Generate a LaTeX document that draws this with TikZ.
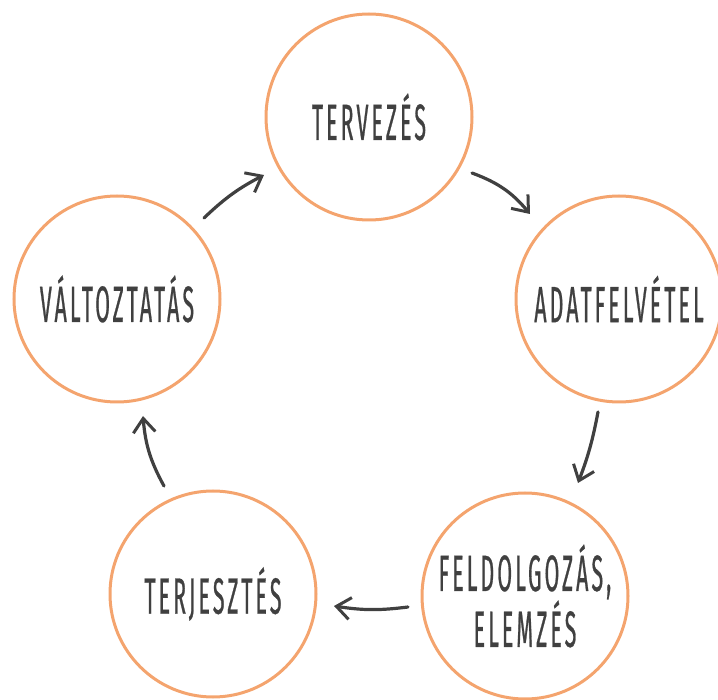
\documentclass[tikz,border=0pt]{standalone}
\usepackage{fontspec}
\setmainfont{Fira Sans}[FakeStretch=0.42,FakeBold=0.5,LetterSpace=6]
\usetikzlibrary{arrows.meta}
\definecolor{ring}{HTML}{F4A46E}
\definecolor{ink}{HTML}{404040}
\tikzset{
  stage/.style={circle, draw=ring, line width=3pt, minimum size=206pt, inner sep=0pt,
    text=ink, font=\fontsize{51}{52}\selectfont, align=center},
  flow/.style={draw=ink, line width=3.2pt, line cap=round,
    -{Straight Barb[length=14pt,width=22pt,line width=3pt]}}
}
\begin{document}
\begin{tikzpicture}[x=1pt,y=-1pt]
\useasboundingbox (0,0) rectangle (718,700);
\node[stage] (t) at (369,117) {TERVEZÉS};
\node[stage] (a) at (619,299) {ADATFELVÉTEL};
\node[stage] (f) at (525,596) {FELDOLGOZÁS,\\ELEMZÉS};
\node[stage] (j) at (213,594) {TERJESZTÉS};
\node[stage] (v) at (117,299) {VÁLTOZTATÁS};
\coordinate (v1) at (204,218); \coordinate (v2) at (264,175);
\coordinate (t1) at (472,173); \coordinate (t2) at (530,214);
\coordinate (a1) at (598,412); \coordinate (a2) at (578,483);
\coordinate (f1) at (408,607); \coordinate (f2) at (334,606);
\coordinate (j1) at (164,486); \coordinate (j2) at (143,416);
\draw[flow] (v1) to[bend left=8] (v2);
\draw[flow] (t1) to[bend left=15] (t2);
\draw[flow] (a1) to[bend left=5] (a2);
\draw[flow] (f1) to[bend left=8] (f2);
\draw[flow] (j1) to[bend left=12] (j2);
\end{tikzpicture}
\end{document}
